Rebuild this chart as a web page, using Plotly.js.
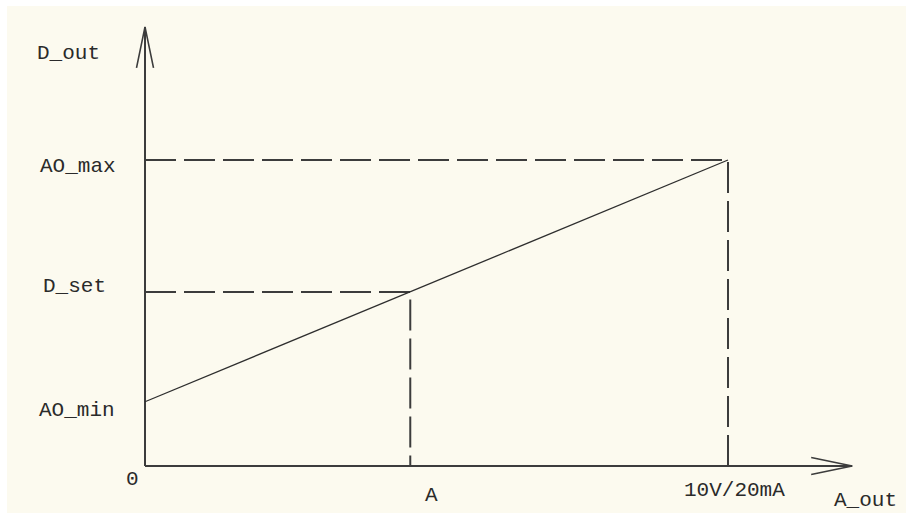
<!DOCTYPE html>
<html>
<head>
<meta charset="utf-8">
<script src="https://cdn.plot.ly/plotly-3.0.1.min.js"></script>
<style>html,body{margin:0;padding:0;background:#ffffff;}#chart{width:907px;height:515px;}</style>
</head>
<body>
<div id="chart"></div>
<script>
// ---- data ----
const xTickLabels = ['0', 'A', '10V/20mA'];
const xTickValues = [0, 4.55, 10];
const yTickLabels = ['AO_min', 'D_set', 'AO_max'];
const yTickValues = [2.1, 5.69, 10];
const xAxisTitle = 'A_out';
const yAxisTitle = 'D_out';

// ---- layout constants ----
const xRange = [-2.367, 13.053];
const yRange = [-1.536, 15.033];
const xTip = 12.13, yTip = 14.35;       // axis arrow tips (data units)
const kx = 58.3, ky = 30.6;              // px per data unit
const arrowLen = 41, arrowHalf = 8.5;    // px

const ink = '#3c3c3c';
const textInk = '#2a2a2a';
const cream = '#FCFAEF';

const xA = xTickValues[1], xMax = xTickValues[2];
const yMin = yTickValues[0], ySet = yTickValues[1], yMax = yTickValues[2];

const traces = [];
// axes
traces.push({x: [0, xTip], y: [0, 0], mode: 'lines', line: {color: ink, width: 2}});
traces.push({x: [0, 0], y: [0, yTip], mode: 'lines', line: {color: ink, width: 2}});
// arrow heads (open V)
traces.push({x: [xTip - arrowLen / kx, xTip, xTip - arrowLen / kx],
             y: [arrowHalf / ky, 0, -arrowHalf / ky], mode: 'lines', line: {color: ink, width: 1.6}});
traces.push({x: [-arrowHalf / kx, 0, arrowHalf / kx],
             y: [yTip - arrowLen / ky, yTip, yTip - arrowLen / ky], mode: 'lines', line: {color: ink, width: 1.6}});
// dashed guides
traces.push({x: [0, xA, xA], y: [ySet, ySet, 0], mode: 'lines', line: {color: ink, width: 2, dash: '31px,8px'}});
traces.push({x: [0, xMax, xMax], y: [yMax, yMax, 0], mode: 'lines', line: {color: ink, width: 2, dash: '31px,8px'}});
// characteristic line
traces.push({x: [0, xMax], y: [yMin, yMax], mode: 'lines', line: {color: '#2e2e2e', width: 1.3}});

const font = {family: 'Liberation Mono, DejaVu Sans Mono, monospace', size: 21, color: textInk};
function ann(text, x, y, xs, ys) {
  return {text: text, x: x, y: y, xref: 'x', yref: 'y', xshift: xs, yshift: ys,
          xanchor: 'center', yanchor: 'middle', showarrow: false, font: font};
}
const annotations = [
  ann(yAxisTitle, 0, yTip, -77, -27),
  ann(yTickLabels[2], 0, yTickValues[2], -67, -6),
  ann(yTickLabels[1], 0, yTickValues[1], -71, 5),
  ann(yTickLabels[0], 0, yTickValues[0], -68, -9),
  ann(xTickLabels[0], xTickValues[0], 0, -13, -13),
  ann(xTickLabels[1], xTickValues[1], 0, 21, -29),
  ann(xTickLabels[2], xTickValues[2], 0, 6, -24),
  ann(xAxisTitle, xTip, 0, 13, -34)
];

const layout = {
  width: 907, height: 515,
  margin: {l: 7, r: 1, t: 6, b: 2, pad: 0},
  paper_bgcolor: '#ffffff', plot_bgcolor: cream,
  showlegend: false, hovermode: false,
  xaxis: {range: xRange, visible: false, fixedrange: true},
  yaxis: {range: yRange, visible: false, fixedrange: true},
  annotations: annotations
};
Plotly.newPlot('chart', traces, layout, {staticPlot: true, displayModeBar: false});
</script>
</body>
</html>
